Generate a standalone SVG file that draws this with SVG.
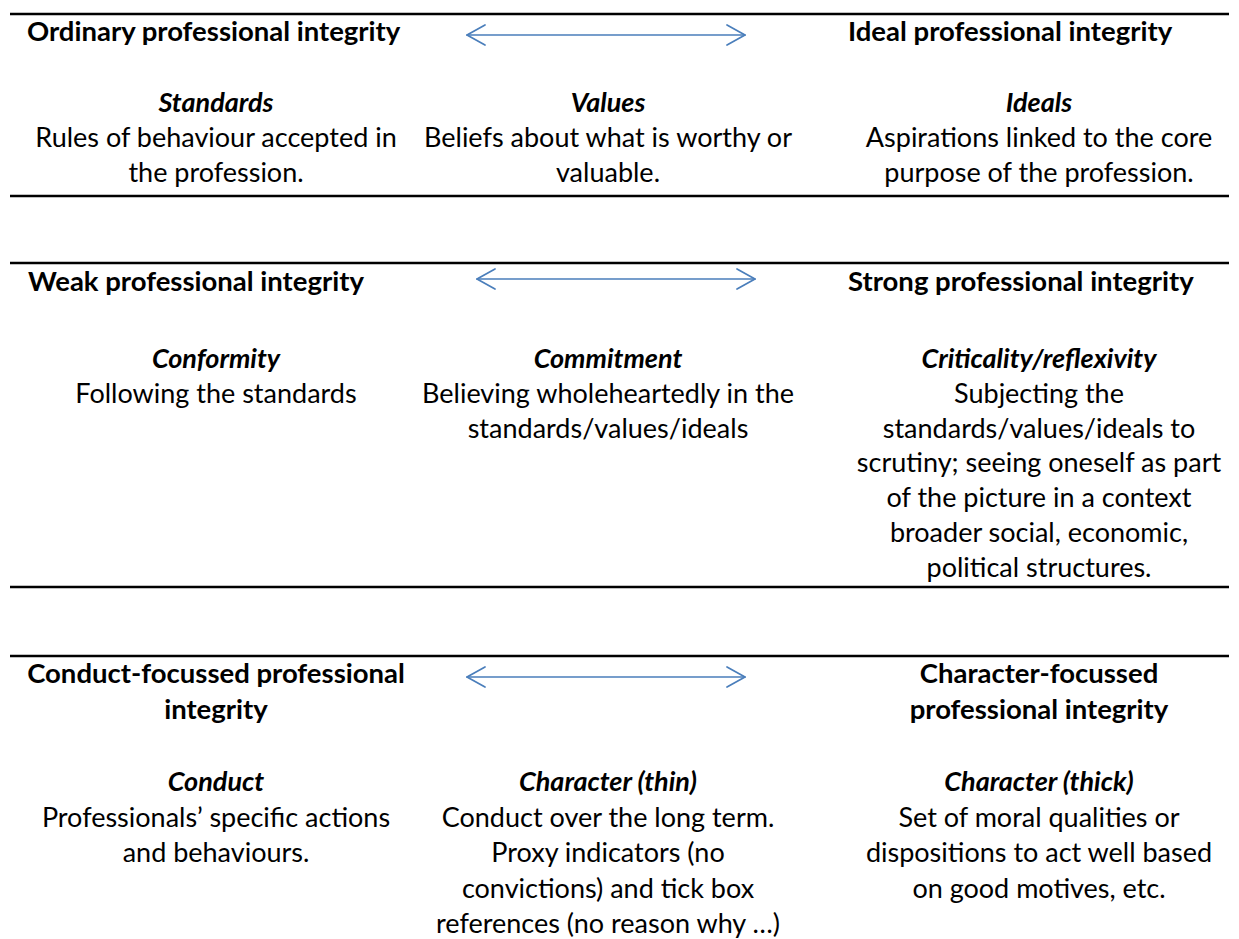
<svg xmlns="http://www.w3.org/2000/svg" width="1239" height="939" viewBox="0 0 1239 939">
  <style>
    text { font-family: Lato, "Liberation Sans", sans-serif; font-size: 27px; fill: #000; }
    .h { font-weight: bold; font-size: 27.5px; }
    .t { font-weight: bold; font-style: italic; text-anchor: middle; }
    .b { text-anchor: middle; }
    .c { text-anchor: middle; }
    .rule { stroke: #000; stroke-width: 2.3; }
    .arrow { stroke: #4A7EBB; stroke-width: 1.7; fill: none; stroke-linecap: round; stroke-linejoin: round; }
  </style>
  <rect width="1239" height="939" fill="#fff"/>

  <!-- table borders -->
  <g id="rules">
    <line class="rule" x1="10" y1="14" x2="1229" y2="14"/>
    <line class="rule" x1="10" y1="196" x2="1229" y2="196"/>
    <line class="rule" x1="10" y1="263" x2="1229" y2="263"/>
    <line class="rule" x1="10" y1="587" x2="1229" y2="587"/>
    <line class="rule" x1="10" y1="656" x2="1229" y2="656"/>
  </g>

  <!-- double-headed arrows between the scale ends -->
  <g id="connectors">
    <g class="arrow">
      <line x1="467" y1="35" x2="745" y2="35"/>
      <polyline points="485,25 467,35 485,45"/>
      <polyline points="727,25 745,35 727,45"/>
    </g>
    <g class="arrow">
      <line x1="477" y1="279" x2="755" y2="279"/>
      <polyline points="495,269 477,279 495,289"/>
      <polyline points="737,269 755,279 737,289"/>
    </g>
    <g class="arrow">
      <line x1="467" y1="677" x2="745" y2="677"/>
      <polyline points="485,667 467,677 485,687"/>
      <polyline points="727,667 745,677 727,687"/>
    </g>
  </g>

  <!-- section 1 -->
  <g id="ordinary">
    <text class="h" x="27" y="41">Ordinary professional integrity</text>
  </g>
  <g id="ideal">
    <text class="h" x="848" y="41">Ideal professional integrity</text>
  </g>
  <g id="standards">
    <text class="t" x="216" y="112">Standards</text>
    <text class="b" x="216" y="147">Rules of behaviour accepted in</text>
    <text class="b" x="216" y="182">the profession.</text>
  </g>
  <g id="values">
    <text class="t" x="608" y="112">Values</text>
    <text class="b" x="608" y="147">Beliefs about what is worthy or</text>
    <text class="b" x="608" y="182">valuable.</text>
  </g>
  <g id="ideals">
    <text class="t" x="1039" y="112">Ideals</text>
    <text class="b" x="1039" y="147">Aspirations linked to the core</text>
    <text class="b" x="1039" y="182">purpose of the profession.</text>
  </g>

  <!-- section 2 -->
  <g id="weak">
    <text class="h" x="28" y="291">Weak professional integrity</text>
  </g>
  <g id="strong">
    <text class="h" x="848" y="291">Strong professional integrity</text>
  </g>
  <g id="conformity">
    <text class="t" x="216" y="368">Conformity</text>
    <text class="b" x="216" y="402.8">Following the standards</text>
  </g>
  <g id="commitment">
    <text class="t" x="608" y="368">Commitment</text>
    <text class="b" x="608" y="402.8">Believing wholeheartedly in the</text>
    <text class="b" x="608" y="437.6">standards/values/ideals</text>
  </g>
  <g id="criticality">
    <text class="t" x="1039" y="368">Criticality/reflexivity</text>
    <text class="b" x="1039" y="402.8">Subjecting the</text>
    <text class="b" x="1039" y="437.6">standards/values/ideals to</text>
    <text class="b" x="1039" y="472.4">scrutiny; seeing oneself as part</text>
    <text class="b" x="1039" y="507.2">of the picture in a context</text>
    <text class="b" x="1039" y="542">broader social, economic,</text>
    <text class="b" x="1039" y="576.8">political structures.</text>
  </g>

  <!-- section 3 -->
  <g id="conduct-focussed">
    <text class="h c" x="216" y="683">Conduct-focussed professional</text>
    <text class="h c" x="216" y="719">integrity</text>
  </g>
  <g id="character-focussed">
    <text class="h c" x="1039" y="683">Character-focussed</text>
    <text class="h c" x="1039" y="719">professional integrity</text>
  </g>
  <g id="conduct">
    <text class="t" x="216" y="791">Conduct</text>
    <text class="b" x="216" y="826.5">Professionals’ specific actions</text>
    <text class="b" x="216" y="862">and behaviours.</text>
  </g>
  <g id="character-thin">
    <text class="t" x="608" y="791">Character (thin)</text>
    <text class="b" x="608" y="826.5">Conduct over the long term.</text>
    <text class="b" x="608" y="862">Proxy indicators (no</text>
    <text class="b" x="608" y="897.5">convictions) and tick box</text>
    <text class="b" x="608" y="933">references (no reason why …)</text>
  </g>
  <g id="character-thick">
    <text class="t" x="1039" y="791">Character (thick)</text>
    <text class="b" x="1039" y="826.5">Set of moral qualities or</text>
    <text class="b" x="1039" y="862">dispositions to act well based</text>
    <text class="b" x="1039" y="897.5">on good motives, etc.</text>
  </g>
</svg>
